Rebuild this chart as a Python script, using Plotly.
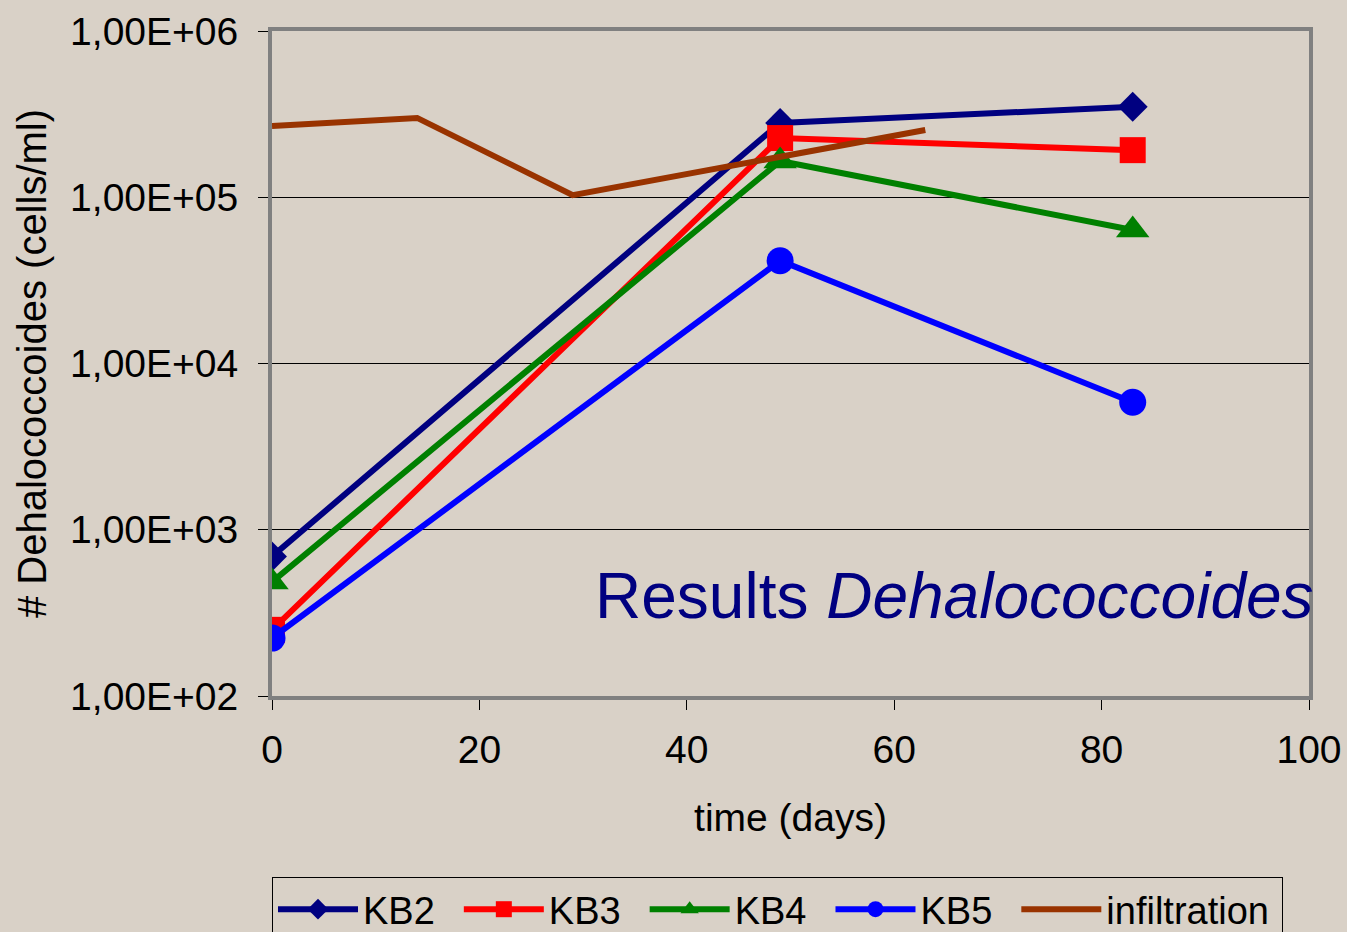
import plotly.graph_objects as go

days_kb = [0, 49, 83]
kb2 = [690, 2.8e5, 3.5e5]
kb3 = [250, 2.27e5, 1.92e5]
kb4 = [485, 1.65e5, 6.35e4]
kb5 = [223, 4.15e4, 5.85e3]

days_inf = [0, 14, 29, 63]
infiltration = [2.68e5, 3.0e5, 1.03e5, 2.54e5]

y_tickvals = [1e2, 1e3, 1e4, 1e5, 1e6]
y_ticktext = ["1,00E+02", "1,00E+03", "1,00E+04", "1,00E+05", "1,00E+06"]
x_tickvals = [0, 20, 40, 60, 80, 100]

BG = "#D9D1C7"
FONT = "Liberation Sans, Arial, sans-serif"
PAD = "\u2002"

fig = go.Figure()
series = [
    ("KB2", kb2, "#000080", "diamond", 23),
    ("KB3", kb3, "#FF0000", "square", 26),
    ("KB4", kb4, "#008000", "triangle-up", 29),
    ("KB5", kb5, "#0000FF", "circle", 27),
]
for name, vals, col, sym, sz in series:
    fig.add_trace(go.Scatter(
        x=days_kb, y=vals, name=name + PAD, mode="lines+markers",
        line=dict(color=col, width=6),
        marker=dict(symbol=sym, size=sz, color=col, line=dict(width=0)),
    ))
fig.add_trace(go.Scatter(
    x=days_inf, y=infiltration, name="infiltration" + "\u2009", mode="lines",
    line=dict(color="#993300", width=6),
))

fig.add_annotation(
    x=1.0, y=0.15, xref="paper", yref="paper", xanchor="right", yanchor="middle",
    xshift=7,
    text="Results <i>Dehalococcoides</i>", showarrow=False,
    font=dict(size=64, color="#000080", family=FONT),
)

fig.update_layout(
    width=1347, height=932,
    paper_bgcolor=BG, plot_bgcolor=BG,
    margin=dict(l=272, r=38, t=31, b=236, pad=0, autoexpand=False),
    font=dict(family=FONT, color="black", size=39),
    showlegend=True,
    legend=dict(
        orientation="h", xref="container", yref="container",
        x=272 / 1347, xanchor="left", y=1 - 877 / 932, yanchor="top",
        bgcolor=BG, bordercolor="black", borderwidth=1,
        font=dict(size=38, family=FONT), itemwidth=80,
        traceorder="normal",
    ),
    xaxis=dict(
        range=[0, 100], tickvals=x_tickvals, ticks="outside", ticklen=10,
        tickcolor="black", showgrid=False, zeroline=False, automargin=False,
        showline=True, linecolor="#808080", linewidth=4, mirror=True,
        ticklabelstandoff=6,
        title=dict(text="time (days)", font=dict(size=39), standoff=35),
    ),
    yaxis=dict(
        type="log", range=[2, 6], tickvals=y_tickvals, ticktext=y_ticktext,
        ticks="outside", ticklen=10, tickcolor="black", automargin=False,
        showgrid=True, gridcolor="black", gridwidth=1, zeroline=False,
        showline=True, linecolor="#808080", linewidth=4, mirror=True,
        ticklabelstandoff=12,
        title=dict(text="# Dehalococcoides (cells/ml)", font=dict(size=40), standoff=12),
    ),
)

fig.write_html(
    "out.html",
    config={"displayModeBar": False},
    post_script="document.body.style.margin='0';document.body.style.background='#D9D1C7';document.body.style.overflow='hidden';",
)
